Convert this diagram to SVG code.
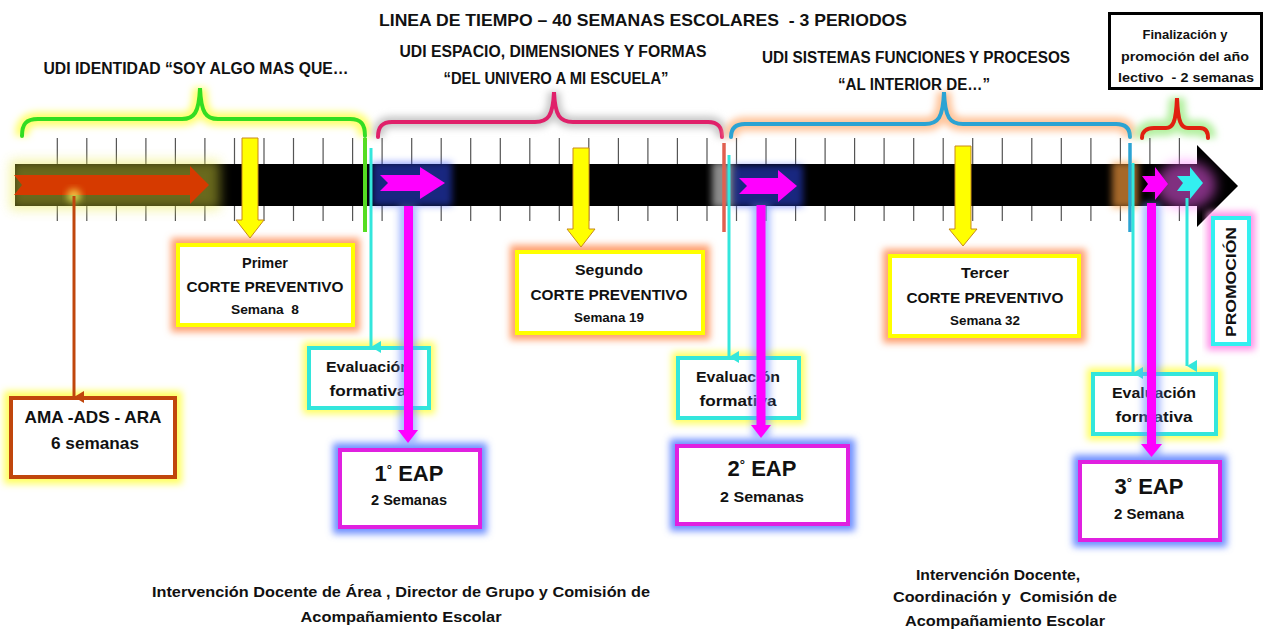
<svg xmlns="http://www.w3.org/2000/svg" width="1270" height="630" viewBox="0 0 1270 630">
<style>
  text { font-family: "Liberation Sans", Arial, sans-serif; font-weight: bold; fill: #111; text-anchor: middle; }
  .t17 { font-size: 17px; }
  .t16 { font-size: 16px; }
  .t15 { font-size: 15px; }
  .t13 { font-size: 13px; }
  .t12 { font-size: 12px; }
  .big { font-size: 22px; }
  .box { fill: #fff; stroke-width: 4; }
  .glow { fill: none; filter: url(#blur); }
  .brace { fill: none; stroke-width: 4; stroke-linecap: round; }
  .tick { stroke: #555; stroke-width: 1.2; fill: none; }
  .yarrow { fill: #ffff00; stroke: #c98a1a; stroke-width: 1; }
  .cyan { stroke: #33e6dc; stroke-width: 3; }
  .cglow { stroke: #ffff60; stroke-width: 9; opacity: 0.7; filter: url(#blur); }
</style>
<defs>
  <filter id="blur" x="-30%" y="-30%" width="160%" height="160%"><feGaussianBlur stdDeviation="3.5"/></filter>
  <filter id="blur2" x="-30%" y="-60%" width="160%" height="220%"><feGaussianBlur stdDeviation="6"/></filter>
  <marker id="mCyan" markerUnits="userSpaceOnUse" markerWidth="14" markerHeight="14" refX="7" refY="12" orient="auto" viewBox="0 0 14 14">
    <path d="M1,2 L7,12 L13,2 Z" fill="#33e6dc"/>
  </marker>
  <marker id="mOrange" markerUnits="userSpaceOnUse" markerWidth="14" markerHeight="14" refX="7" refY="12" viewBox="0 0 14 14" orient="auto">
    <path d="M1,2 L7,12 L13,2 Z" fill="#c0460c"/>
  </marker>
</defs>

<rect width="1270" height="630" fill="#fff"/>

<!-- Title -->
<text class="t17" x="643" y="26" textLength="528" lengthAdjust="spacingAndGlyphs" xml:space="preserve">LINEA DE TIEMPO – 40 SEMANAS ESCOLARES  - 3 PERIODOS</text>

<!-- Brace groups -->
<g id="udi1">
  <path class="glow" stroke="#ffff70" stroke-width="14" d="M22,136 C22,124 26,119 38,119 L182,119 C194,119 199,113 200,88 C201,113 206,119 218,119 L350,119 C361,119 365,124 365,136"/>
  <path class="brace" stroke="#33dd22" d="M22,136 C22,124 26,119 38,119 L182,119 C194,119 199,113 200,88 C201,113 206,119 218,119 L350,119 C361,119 365,124 365,136"/>
  <text class="t16" x="196" y="74" textLength="305" lengthAdjust="spacingAndGlyphs">UDI IDENTIDAD “SOY ALGO MAS QUE…</text>
</g>
<g id="udi2">
  <path class="glow" stroke="#c8c8c8" stroke-width="12" d="M378,137 C378,127 382,122 392,122 L535,122 C548,122 553,116 554,92 C555,116 560,122 573,122 L708,122 C718,122 722,127 722,137"/>
  <path class="brace" stroke="#e0206a" d="M378,137 C378,127 382,122 392,122 L535,122 C548,122 553,116 554,92 C555,116 560,122 573,122 L708,122 C718,122 722,127 722,137"/>
  <text class="t16" x="553" y="57" textLength="307" lengthAdjust="spacingAndGlyphs">UDI ESPACIO, DIMENSIONES Y FORMAS</text>
  <text class="t16" x="556" y="84" textLength="225" lengthAdjust="spacingAndGlyphs">“DEL UNIVERO A MI ESCUELA”</text>
</g>
<g id="udi3">
  <path class="glow" stroke="#ffc49a" stroke-width="14" d="M731,137 C731,129 735,124 745,124 L925,124 C938,124 943,118 944,92 C945,118 950,124 963,124 L1116,124 C1126,124 1130,129 1130,137"/>
  <path class="brace" stroke="#2ba3d3" d="M731,137 C731,129 735,124 745,124 L925,124 C938,124 943,118 944,92 C945,118 950,124 963,124 L1116,124 C1126,124 1130,129 1130,137"/>
  <text class="t16" x="916" y="63" textLength="308" lengthAdjust="spacingAndGlyphs">UDI SISTEMAS FUNCIONES Y PROCESOS</text>
  <text class="t16" x="914" y="90" textLength="152" lengthAdjust="spacingAndGlyphs">“AL INTERIOR DE…”</text>
</g>
<g id="final">
  <path class="glow" stroke="#b4f0a0" stroke-width="16" d="M1142,138 C1142,132 1146,128 1154,128 L1166,128 C1173,128 1176,122 1177,98 C1178,122 1181,128 1188,128 L1200,128 C1206,128 1208,132 1208,138"/>
  <path class="brace" stroke="#e02010" d="M1142,138 C1142,132 1146,128 1154,128 L1166,128 C1173,128 1176,122 1177,98 C1178,122 1181,128 1188,128 L1200,128 C1206,128 1208,132 1208,138"/>
  <rect x="1109.5" y="13.5" width="152" height="75" fill="#fff" stroke="#000" stroke-width="3"/>
  <text class="t13" x="1185" y="39" textLength="85" lengthAdjust="spacingAndGlyphs">Finalización y</text>
  <text class="t13" x="1185" y="61" textLength="128" lengthAdjust="spacingAndGlyphs">promoción del año</text>
  <text class="t13" x="1186" y="82" textLength="136" lengthAdjust="spacingAndGlyphs" xml:space="preserve">lectivo  - 2 semanas</text>
</g>

<!-- Timeline -->
<g id="timeline">
  <path class="tick" d="M57.3,138V221 M86.8,138V221 M116.4,138V221 M145.9,138V221 M175.4,138V221 M204.9,138V221 M234.5,138V221 M264,138V221 M293.5,138V221 M323.1,138V221 M352.6,138V221 M382.1,138V221 M411.7,138V221 M441.2,138V221 M470.7,138V221 M500.3,138V221 M529.8,138V221 M559.3,138V221 M588.8,138V221 M618.4,138V221 M647.9,138V221 M677.4,138V221 M707,138V221 M736.5,138V221 M766,138V221 M795.6,138V221 M825.1,138V221 M854.6,138V221 M884.1,138V221 M913.7,138V221 M943.2,138V221 M972.7,138V221 M1002.3,138V221 M1031.8,138V221 M1061.3,138V221 M1090.9,138V221 M1120.4,138V221 M1149.9,138V221 M1179.4,138V221"/>
  <rect x="15" y="164" width="1185" height="42" fill="#000"/>
  <polygon points="1197,145 1238,186 1197,227" fill="#000"/>
  <!-- glows on the bar -->
  <rect x="10" y="160" width="210" height="50" fill="#e8e840" opacity="0.45" filter="url(#blur2)"/>
  <rect x="712" y="162" width="22" height="46" fill="#fff" opacity="0.55" filter="url(#blur)"/>
  <rect x="1112" y="162" width="26" height="46" fill="#ffa040" opacity="0.65" filter="url(#blur)"/>
  <ellipse cx="1186" cy="185" rx="30" ry="24" fill="#ff60ff" opacity="0.5" filter="url(#blur2)"/>
  <rect x="372" y="162" width="80" height="44" fill="#3050ff" opacity="0.5" filter="url(#blur)"/>
  <rect x="733" y="165" width="70" height="42" fill="#3050ff" opacity="0.5" filter="url(#blur)"/>
  <!-- period arrows -->
  <polygon points="14,175 190,175 190,166 209,185 190,204 190,195 14,195 22,185" fill="#d63a00"/>
  <polygon points="380,175 420,175 420,167 445,183 420,199 420,191 380,191 388,183" fill="#ff00ff"/>
  <polygon points="739,178 778,178 778,170 797,186 778,202 778,194 739,194 747,186" fill="#ff00ff"/>
  <polygon points="1142,176 1155,176 1155,167 1168,184 1155,200 1155,192 1142,192 1148,184" fill="#ff00ff"/>
  <polygon points="1177,176 1190,176 1190,167 1203,183 1190,199 1190,191 1177,191 1183,183" fill="#33f0f0"/>
  <!-- period boundaries -->
  <line x1="365" y1="138" x2="365" y2="232" stroke="#ffff70" stroke-width="9" filter="url(#blur)"/>
  <line x1="365" y1="138" x2="365" y2="232" stroke="#55dd22" stroke-width="4"/>
  <line x1="724" y1="143" x2="724" y2="232" stroke="#e06050" stroke-width="3.5"/>
  <line x1="1130" y1="143" x2="1130" y2="232" stroke="#2ba3d3" stroke-width="3.5"/>
</g>

<!-- Nodes -->
<g id="ama">
  <rect class="glow" x="11" y="398" width="164" height="79" stroke="#ffff60" stroke-width="14"/>
  <rect class="box" x="11" y="398" width="164" height="79" stroke="#c0460c"/>
  <text class="t17" x="93" y="423" textLength="137" lengthAdjust="spacingAndGlyphs">AMA -ADS - ARA</text>
  <text class="t17" x="95" y="449" textLength="88" lengthAdjust="spacingAndGlyphs">6 semanas</text>
</g>
<g id="corte1">
  <rect class="glow" x="178" y="245" width="175" height="80" stroke="#ffa070" stroke-width="14"/>
  <rect class="box" x="178" y="245" width="175" height="80" stroke="#ffff00"/>
  <text class="t15" x="265" y="268" textLength="46" lengthAdjust="spacingAndGlyphs">Primer</text>
  <text class="t15" x="265" y="292" textLength="157" lengthAdjust="spacingAndGlyphs">CORTE PREVENTIVO</text>
  <text class="t12" x="265" y="314" textLength="68" lengthAdjust="spacingAndGlyphs" xml:space="preserve">Semana  8</text>
</g>
<g id="corte2">
  <rect class="glow" x="517" y="252" width="186" height="81" stroke="#ffa070" stroke-width="14"/>
  <rect class="box" x="517" y="252" width="186" height="81" stroke="#ffff00"/>
  <text class="t15" x="609" y="275" textLength="68" lengthAdjust="spacingAndGlyphs">Segundo</text>
  <text class="t15" x="609" y="300" textLength="157" lengthAdjust="spacingAndGlyphs">CORTE PREVENTIVO</text>
  <text class="t12" x="609" y="322" textLength="70" lengthAdjust="spacingAndGlyphs">Semana 19</text>
</g>
<g id="corte3">
  <rect class="glow" x="890" y="256" width="189" height="80" stroke="#ffa070" stroke-width="14"/>
  <rect class="box" x="890" y="256" width="189" height="80" stroke="#ffff00"/>
  <text class="t15" x="985" y="278" textLength="48" lengthAdjust="spacingAndGlyphs">Tercer</text>
  <text class="t15" x="985" y="303" textLength="157" lengthAdjust="spacingAndGlyphs">CORTE PREVENTIVO</text>
  <text class="t12" x="985" y="325" textLength="70" lengthAdjust="spacingAndGlyphs">Semana 32</text>
</g>
<g id="eval1">
  <rect class="glow" x="309" y="348" width="120" height="60" stroke="#ffff60" stroke-width="12"/>
  <rect class="box" x="309" y="348" width="120" height="60" stroke="#33e6dc"/>
  <text class="t15" x="368" y="372" textLength="84" lengthAdjust="spacingAndGlyphs">Evaluación</text>
  <text class="t15" x="368" y="396" textLength="77" lengthAdjust="spacingAndGlyphs">formativa</text>
</g>
<g id="eval2">
  <rect class="glow" x="678" y="358" width="121" height="60" stroke="#ffff60" stroke-width="12"/>
  <rect class="box" x="678" y="358" width="121" height="60" stroke="#33e6dc"/>
  <text class="t15" x="738" y="382" textLength="84" lengthAdjust="spacingAndGlyphs">Evaluación</text>
  <text class="t15" x="738" y="406" textLength="77" lengthAdjust="spacingAndGlyphs">formativa</text>
</g>
<g id="eval3">
  <rect class="glow" x="1093" y="374" width="123" height="60" stroke="#ffff60" stroke-width="12"/>
  <rect class="box" x="1093" y="374" width="123" height="60" stroke="#33e6dc"/>
  <text class="t15" x="1154" y="398" textLength="84" lengthAdjust="spacingAndGlyphs">Evaluación</text>
  <text class="t15" x="1154" y="422" textLength="77" lengthAdjust="spacingAndGlyphs">formativa</text>
</g>
<g id="eap1">
  <rect class="glow" x="340" y="450" width="140" height="77" stroke="#7090ff" stroke-width="14"/>
  <rect class="box" x="340" y="450" width="140" height="77" stroke="#e020e0"/>
  <text class="big" x="409" y="481">1<tspan font-size="13px" dy="-7">°</tspan><tspan dy="7"> EAP</tspan></text>
  <text class="t15" x="409" y="505" textLength="76" lengthAdjust="spacingAndGlyphs">2 Semanas</text>
</g>
<g id="eap2">
  <rect class="glow" x="677" y="446" width="171" height="78" stroke="#7090ff" stroke-width="14"/>
  <rect class="box" x="677" y="446" width="171" height="78" stroke="#e020e0"/>
  <text class="big" x="762" y="476">2<tspan font-size="13px" dy="-7">°</tspan><tspan dy="7"> EAP</tspan></text>
  <text class="t15" x="762" y="502" textLength="84" lengthAdjust="spacingAndGlyphs">2 Semanas</text>
</g>
<g id="eap3">
  <rect class="glow" x="1080" y="462" width="140" height="78" stroke="#7090ff" stroke-width="14"/>
  <rect class="box" x="1080" y="462" width="140" height="78" stroke="#e020e0"/>
  <text class="big" x="1149" y="494">3<tspan font-size="13px" dy="-7">°</tspan><tspan dy="7"> EAP</tspan></text>
  <text class="t15" x="1149" y="519" textLength="70" lengthAdjust="spacingAndGlyphs">2 Semana</text>
</g>
<g id="promocion">
  <rect class="glow" x="1213" y="218" width="36" height="126" stroke="#ff90e8" stroke-width="12"/>
  <rect class="box" x="1213" y="218" width="36" height="126" stroke="#33f0f0"/>
  <text x="0" y="0" font-size="14px" transform="translate(1236,282) rotate(-90)" textLength="110" lengthAdjust="spacingAndGlyphs">PROMOCIÓN</text>
</g>

<!-- Connectors -->
<g id="connectors">
  <!-- yellow corte arrows -->
  <polygon class="yarrow" points="242,138 258,138 258,220 264,220 250,238 236,220 242,220"/>
  <polygon class="yarrow" points="573,148 589,148 589,229 595,229 581,247 567,229 573,229"/>
  <polygon class="yarrow" points="955,146 971,146 971,229 977,229 963,246 949,229 955,229"/>
  <!-- AMA connector -->
  <circle cx="74" cy="196" r="7" fill="#ffff60" opacity="0.7" filter="url(#blur)"/>
  <line x1="74" y1="196" x2="74" y2="397" stroke="#c0460c" stroke-width="3" marker-end="url(#mOrange)"/>
  <!-- cyan evaluation connectors -->
  <line class="cglow" x1="371" y1="148" x2="371" y2="347"/>
  <line class="cyan" x1="371" y1="148" x2="371" y2="347" marker-end="url(#mCyan)"/>
  <line class="cglow" x1="729" y1="155" x2="729" y2="357"/>
  <line class="cyan" x1="729" y1="155" x2="729" y2="357" marker-end="url(#mCyan)"/>
  <line class="cglow" x1="1133" y1="163" x2="1133" y2="373"/>
  <line class="cyan" x1="1133" y1="163" x2="1133" y2="373" marker-end="url(#mCyan)"/>
  <line class="cglow" x1="1187" y1="198" x2="1187" y2="366"/>
  <line class="cyan" x1="1187" y1="198" x2="1187" y2="366" marker-end="url(#mCyan)"/>
  <!-- magenta EAP connectors -->
  <path d="M408,206 V443 M761,205 V438 M1151.5,203 V457" stroke="#7090ff" stroke-width="18" opacity="0.6" filter="url(#blur)" fill="none"/>
  <rect x="404" y="206" width="9" height="225" fill="#ff00ff"/>
  <polygon points="398,430 418,430 408,443" fill="#ff00ff"/>
  <rect x="756.5" y="205" width="9" height="221" fill="#ff00ff"/>
  <polygon points="751,425 771,425 761,438" fill="#ff00ff"/>
  <rect x="1147" y="203" width="9" height="242" fill="#ff00ff"/>
  <polygon points="1141,444 1162,444 1151.5,457" fill="#ff00ff"/>
</g>

<!-- Bottom notes -->
<text class="t15" x="401" y="597" textLength="498" lengthAdjust="spacingAndGlyphs">Intervención Docente de Área , Director de Grupo y Comisión de</text>
<text class="t15" x="401" y="622" textLength="201" lengthAdjust="spacingAndGlyphs">Acompañamiento Escolar</text>
<text class="t15" x="998" y="580" textLength="164" lengthAdjust="spacingAndGlyphs">Intervención Docente,</text>
<text class="t15" x="1005" y="602" textLength="224" lengthAdjust="spacingAndGlyphs" xml:space="preserve">Coordinación y  Comisión de</text>
<text class="t15" x="1005" y="626" textLength="200" lengthAdjust="spacingAndGlyphs">Acompañamiento Escolar</text>
</svg>
